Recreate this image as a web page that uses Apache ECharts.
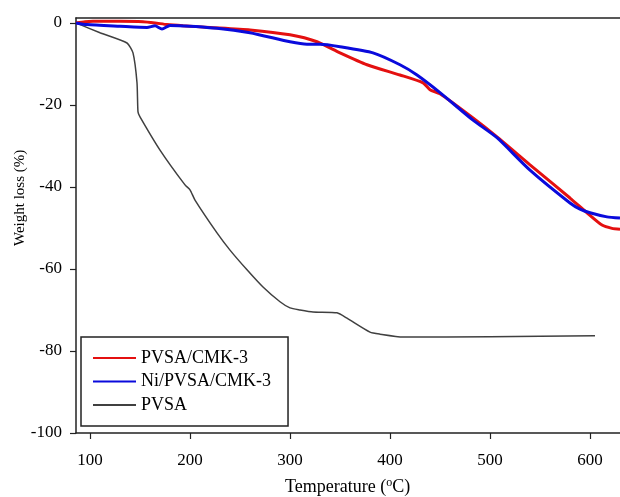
<!DOCTYPE html>
<html>
<head>
<meta charset="utf-8">
<script src="https://cdn.jsdelivr.net/npm/echarts@6/dist/echarts.min.js"></script>
<style>html,body{margin:0;padding:0;background:#fff;}#c{width:620px;height:497px;}</style>
</head>
<body>
<div id="c"></div>
<script>
var seriesNames = ['PVSA/CMK-3', 'Ni/PVSA/CMK-3', 'PVSA'];
var xTicks = [100, 200, 300, 400, 500, 600];
var yTicks = [-100, -80, -60, -40, -20, 0];

var tempRed = [86, 95, 103, 130, 153, 165, 177, 193, 220, 260, 300, 327, 350, 377, 410, 433, 440, 450, 483, 507, 540, 580, 597, 612, 622, 630];
var lossRed = [0, 0.3, 0.4, 0.4, 0.3, 0, -0.4, -0.7, -1.1, -1.7, -2.9, -4.6, -7.3, -10.2, -12.7, -14.6, -16.3, -17.3, -23.2, -27.8, -34.6, -42.7, -46.3, -49.3, -50.1, -50.3];

var tempBlue = [86, 97, 130, 157, 165, 172, 180, 227, 260, 300, 317, 330, 350, 383, 410, 427, 450, 483, 507, 540, 580, 590, 600, 617, 630];
var lossBlue = [0, -0.4, -0.8, -1.1, -0.7, -1.5, -0.6, -1.3, -2.4, -4.6, -5.2, -5.2, -5.8, -7.3, -10.2, -12.7, -17, -23.7, -28, -35.9, -43.9, -45.4, -46.3, -47.3, -47.6];

var tempGray = [86, 110, 137, 143, 147, 148, 150, 170, 195, 200, 205, 227, 240, 257, 273, 290, 300, 310, 323, 347, 357, 380, 390, 413, 500, 605];
var lossGray = [0, -2.4, -4.9, -7.3, -14.6, -21.7, -22.9, -31, -39.5, -40.7, -43.2, -51.2, -55.4, -60.2, -64.4, -68, -69.5, -70, -70.5, -70.7, -72, -75.4, -75.9, -76.6, -76.5, -76.3];

function pairs(xs, ys) { return xs.map(function (x, i) { return [x, ys[i]]; }); }

var font = 'Liberation Serif, Times New Roman, serif';
var axisColor = '#222';

var chart = echarts.init(document.getElementById('c'), null, {renderer: 'canvas'});
chart.setOption({
  animation: false,
  backgroundColor: '#fff',
  grid: {left: 76, top: 18, right: 0, bottom: 64, containLabel: false},
  xAxis: [{
    type: 'value', min: 86, max: 630,
    axisLine: {show: true, onZero: false, lineStyle: {color: axisColor, width: 1.5}},
    axisTick: {show: true, length: 6, lineStyle: {color: axisColor, width: 1.2}, customValues: xTicks},
    axisLabel: {margin: 19, color: '#000', fontFamily: font, fontSize: 17, customValues: xTicks},
    splitLine: {show: false}
  }, {
    type: 'value', min: 86, max: 630, position: 'top',
    axisLine: {show: true, onZero: false, lineStyle: {color: axisColor, width: 1.5}},
    axisTick: {show: false}, axisLabel: {show: false}, splitLine: {show: false}
  }],
  yAxis: {
    type: 'value', min: -100, max: 1.2,
    axisLine: {show: true, onZero: false, lineStyle: {color: axisColor, width: 1.5}},
    axisTick: {show: true, length: 6, lineStyle: {color: axisColor, width: 1.2}, customValues: yTicks},
    axisLabel: {margin: 14, color: '#000', fontFamily: font, fontSize: 17, customValues: yTicks},
    splitLine: {show: false}
  },
  legend: {
    orient: 'vertical', left: 81, top: 337,
    data: seriesNames,
    itemWidth: 43, itemHeight: 14, itemGap: 5.5,
    padding: [12, 17, 12, 11],
    borderColor: '#222', borderWidth: 1.5, backgroundColor: '#fff',
    itemStyle: {opacity: 0},
    textStyle: {fontFamily: font, fontSize: 18, color: '#000'}
  },
  graphic: [
    {type: 'text', rotation: Math.PI / 2, x: 13, y: 246,
     style: {text: 'Weight loss (%)', font: '15px ' + font, fill: '#000'}},
    {type: 'text', left: 285, top: 477,
     style: {rich: {n: {fontFamily: font, fontSize: 18, fill: '#000'}, s: {fontFamily: font, fontSize: 12, verticalAlign: 'top', fill: '#000', padding: [0, 0, 8, 0]}},
             text: '{n|Temperature (}{s|o}{n|C)}'}}
  ],
  series: [
    {name: seriesNames[0], type: 'line', data: pairs(tempRed, lossRed), symbol: 'none', smooth: 0.2, lineStyle: {color: '#e41010', width: 3}, itemStyle: {color: '#e41010'}, z: 3},
    {name: seriesNames[1], type: 'line', data: pairs(tempBlue, lossBlue), symbol: 'none', smooth: 0.2, lineStyle: {color: '#0a0adc', width: 3}, itemStyle: {color: '#0a0adc'}, z: 4},
    {name: seriesNames[2], type: 'line', data: pairs(tempGray, lossGray), symbol: 'none', smooth: 0.2, lineStyle: {color: '#404040', width: 1.5}, itemStyle: {color: '#404040'}, z: 2}
  ]
});
</script>
</body>
</html>
